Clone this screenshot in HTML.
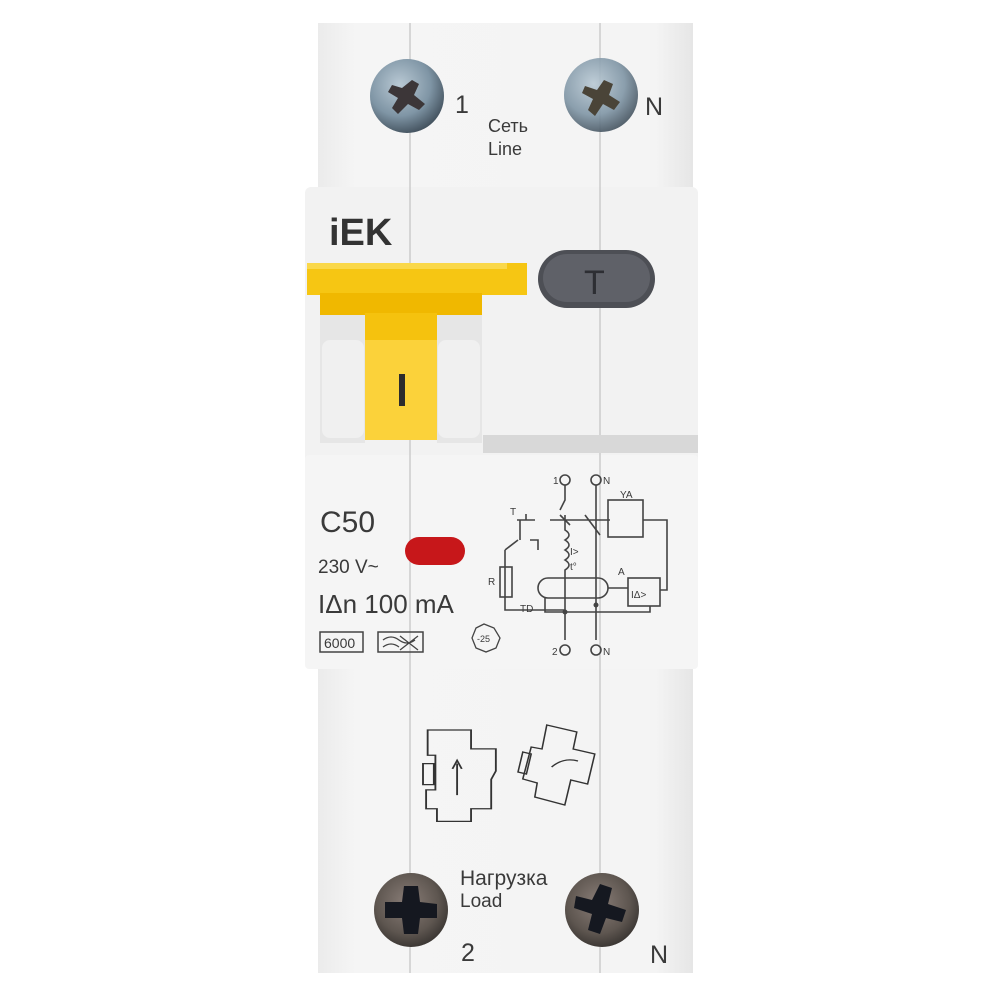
<!DOCTYPE html>
<html><head><meta charset="utf-8"><style>
html,body{margin:0;padding:0;background:#fff;width:1000px;height:1000px;overflow:hidden}
text{font-family:"Liberation Sans","DejaVu Sans",sans-serif;fill:#3a3a3a}
</style></head><body>
<svg width="1000" height="1000" viewBox="0 0 1000 1000" xmlns="http://www.w3.org/2000/svg">
<defs>
<radialGradient id="sc1" cx="40%" cy="35%" r="70%"><stop offset="0" stop-color="#b9c9d4"/><stop offset="0.6" stop-color="#7f95a5"/><stop offset="1" stop-color="#3e4c58"/></radialGradient>
<radialGradient id="sc2" cx="45%" cy="40%" r="70%"><stop offset="0" stop-color="#8a7e78"/><stop offset="0.6" stop-color="#5e5650"/><stop offset="1" stop-color="#2b2826"/></radialGradient>
<linearGradient id="body" x1="0" x2="1"><stop offset="0" stop-color="#ebebeb"/><stop offset="0.1" stop-color="#f5f5f5"/><stop offset="0.9" stop-color="#f4f4f4"/><stop offset="1" stop-color="#e6e6e6"/></linearGradient>
</defs>
<rect width="1000" height="1000" fill="#fff"/>
<rect x="318" y="23" width="375" height="170" fill="url(#body)"/>
<rect x="318" y="665" width="375" height="308" fill="url(#body)"/>
<rect x="305" y="187" width="393" height="482" rx="6" fill="#f2f2f2"/>
<rect x="305" y="455" width="393" height="214" rx="4" fill="#f5f5f5"/>
<line x1="410" y1="23" x2="410" y2="973" stroke="#b8b8b8" stroke-width="1"/>
<line x1="600" y1="23" x2="600" y2="973" stroke="#b8b8b8" stroke-width="1"/>
<rect x="483" y="435" width="215" height="18" fill="#d8d8d8"/>
<circle cx="407" cy="96" r="37" fill="url(#sc1)"/>
<path d="M392 85 L402 88 L412 80 L419 84 L414 95 L425 104 L419 110 L408 104 L398 114 L392 108 L398 98 L388 92Z" fill="#3c3638"/>
<circle cx="601" cy="95" r="37" fill="url(#sc1)" opacity="0.9"/>
<path d="M585 86 L597 90 L604 80 L613 84 L609 95 L620 102 L614 110 L603 104 L595 116 L588 110 L593 99 L582 93Z" fill="#4a4438"/>
<circle cx="411" cy="910" r="37" fill="url(#sc2)"/>
<path d="M385 902 L402 902 L404 886 L418 886 L420 902 L437 904 L437 918 L420 918 L418 934 L404 934 L402 918 L385 918Z" fill="#151820"/>
<circle cx="602" cy="910" r="37" fill="url(#sc2)"/>
<path d="M576 896 L592 900 L600 884 L612 888 L608 904 L626 910 L622 922 L606 918 L600 934 L588 930 L592 914 L574 908Z" fill="#151820"/>
<text x="455" y="113" font-size="25">1</text>
<text x="645" y="115" font-size="25">N</text>
<text x="488" y="132" font-size="18">Сеть</text>
<text x="488" y="155" font-size="18">Line</text>
<text x="460" y="885" font-size="21">Нагрузка</text>
<text x="460" y="907" font-size="19">Load</text>
<text x="461" y="961" font-size="25">2</text>
<text x="650" y="963" font-size="25">N</text>
<text x="329" y="245" font-size="38" font-weight="bold" style="fill:#333">iEK</text>
<rect x="538" y="250" width="117" height="58" rx="29" fill="#4d4f55"/>
<rect x="543" y="254" width="107" height="48" rx="24" fill="#5f6168"/>
<text x="584" y="294" font-size="34" style="fill:#2d2e33">T</text>
<rect x="320" y="313" width="45" height="130" fill="#e6e6e6"/>
<rect x="437" y="313" width="45" height="130" fill="#e6e6e6"/>
<rect x="322" y="340" width="42" height="98" rx="8" fill="#f0f0f0"/>
<rect x="438" y="340" width="42" height="98" rx="8" fill="#f0f0f0"/>
<rect x="307" y="263" width="220" height="32" fill="#f6c613"/>
<rect x="307" y="263" width="200" height="6" fill="#fad84a"/>
<rect x="320" y="293" width="162" height="22" fill="#f0b800"/>
<rect x="365" y="313" width="72" height="127" fill="#f5c20e"/>
<rect x="365" y="340" width="72" height="100" fill="#fbd23a"/>
<rect x="399" y="374" width="6" height="32" fill="#2c2c2c"/>
<text x="320" y="532" font-size="30">C50</text>
<text x="318" y="573" font-size="19">230 V~</text>
<text x="318" y="613" font-size="26">IΔn 100 mA</text>
<rect x="320" y="632" width="43" height="20" fill="none" stroke="#444" stroke-width="1.5"/>
<text x="324" y="648" font-size="14">6000</text>
<rect x="378" y="632" width="45" height="20" fill="none" stroke="#444" stroke-width="1.5"/>
<path d="M383 640 q8 -6 16 0 t16 0 M383 647 q8 -6 16 0 M400 636 L418 650 M418 636 L400 650" stroke="#444" fill="none" stroke-width="1.3"/>
<polygon points="484,624 494,628 500,638 496,648 486,652 476,648 472,638 476,628" fill="none" stroke="#444" stroke-width="1.3"/>
<text x="477" y="642" font-size="9">-25</text>
<rect x="405" y="537" width="60" height="28" rx="14" fill="#c7171a"/>
<g stroke="#444" stroke-width="1.6" fill="none">
<circle cx="565" cy="480" r="5"/><circle cx="596" cy="480" r="5"/>
<circle cx="565" cy="650" r="5"/><circle cx="596" cy="650" r="5"/>
<path d="M565 485 V500 L560 510 M596 485 V640 M565 515 V530 q8 5 0 10 q8 5 0 10 q8 5 0 10 q8 5 0 10 V640"/>
<path d="M550 520 H610 M560 515 L570 525 M585 515 L600 535"/>
<rect x="608" y="500" width="35" height="37"/>
<path d="M643 520 H667 V590 H660"/>
<rect x="628" y="578" width="32" height="28"/>
<rect x="538" y="578" width="70" height="20" rx="10"/>
<path d="M608 588 H628 M545 598 V612 H650 V606 M505 550 V610 H565 M505 550 L518 540 M520 520 V540 M530 540 H538 V550"/>
<rect x="500" y="567" width="12" height="30"/>
<path d="M517 520 H535 M526 514 V520"/>
</g>
<g font-size="10"><text x="553" y="484">1</text><text x="603" y="484">N</text><text x="620" y="498">YA</text>
<text x="510" y="515">T</text><text x="570" y="555">I&gt;</text><text x="570" y="570">t°</text><text x="488" y="585">R</text>
<text x="618" y="575">A</text><text x="631" y="598">IΔ&gt;</text><text x="520" y="612">TD</text><text x="552" y="655">2</text><text x="603" y="655">N</text></g>
<circle cx="565" cy="612" r="2.5" fill="#444"/><circle cx="596" cy="605" r="2.5" fill="#444"/>
<g stroke="#333" stroke-width="1.5" fill="none">
<g transform="translate(423,730) scale(1.55,1.05) translate(-424,-733)">
<path d="M427 733 H455 V751 H471 V772 L468 780 V808 H455 V820 H433 V808 H426 V790 H432 V757 H427Z M424 765 H431 V785 H424Z M446 795 V765 M443 770 L446 762 L449 770" stroke-width="1.2"/>
</g>
<g transform="translate(518,725) scale(1.2,1.0) translate(-516,-726)">
<path d="M540 726 L565 733 L562 750 L580 755 L574 785 L560 781 L555 806 L530 798 L532 784 L520 780 L527 748 L536 750Z M520 753 L527 755 L523 775 L516 773Z M544 768 q10 -10 22 -6" stroke-width="1.3"/>
</g>
</g>
</svg>
</body></html>
